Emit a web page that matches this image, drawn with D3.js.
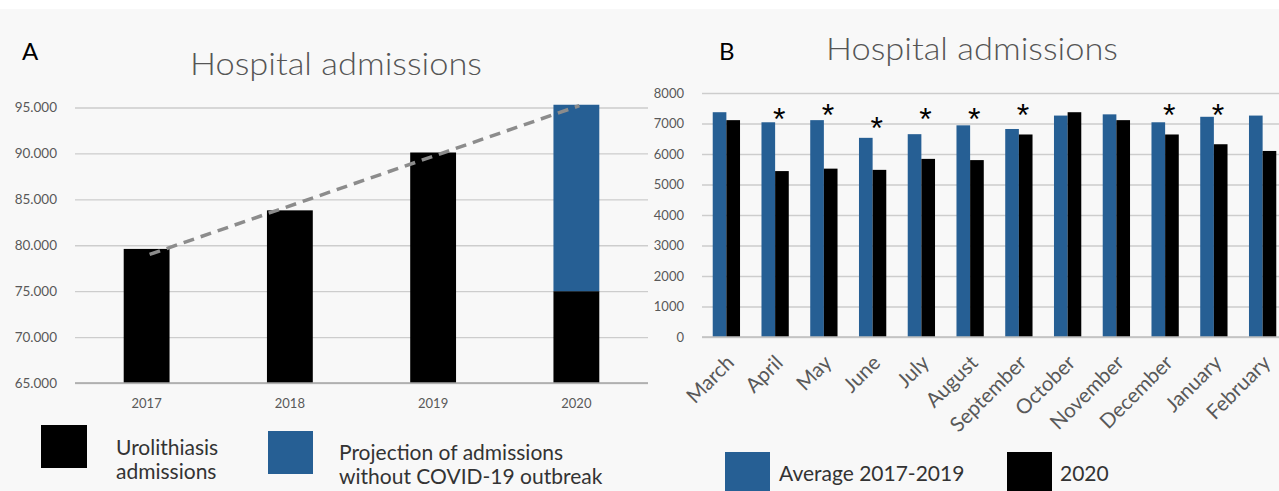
<!DOCTYPE html>
<html>
<head>
<meta charset="utf-8">
<script src="https://cdn.jsdelivr.net/npm/d3@7"></script>
<style>
  html, body { margin: 0; padding: 0; background: #ffffff; }
  svg { display: block; font-family: Lato, "Open Sans", "Liberation Sans", sans-serif; }
</style>
</head>
<body>
<svg id="chart" width="1279" height="491"></svg>
<script>
// ---------- Panel A data ----------
const yearsA = ["2017", "2018", "2019", "2020"];
const admissionsA = [79600, 83800, 90100, 75000];
const projectionA = [null, null, null, 95300];
const trendYearsA = ["2017", "2020"];
const trendValuesA = [79000, 95200];
const ticksA = [65000, 70000, 75000, 80000, 85000, 90000, 95000];

// ---------- Panel B data ----------
const monthsB = ["March", "April", "May", "June", "July", "August", "September",
                 "October", "November", "December", "January", "February"];
const averageB = [7370, 7040, 7110, 6530, 6650, 6940, 6820, 7260, 7300, 7040, 7220, 7260];
const y2020B = [7110, 5440, 5520, 5480, 5840, 5800, 6640, 7370, 7110, 6640, 6320, 6100];
const sigMonthsB = ["April", "May", "June", "July", "August", "September", "December", "January"];
const sigLevelB = [7380, 7510, 7080, 7380, 7380, 7510, 7510, 7510];
const ticksB = [0, 1000, 2000, 3000, 4000, 5000, 6000, 7000, 8000];

const BLUE = "#265f94", BLACK = "#000000", GRID = "#cdcdcd", TXT = "#595959";

const svg = d3.select("#chart");
svg.append("rect").attr("x", 0).attr("y", 9).attr("width", 1279).attr("height", 482).attr("fill", "#f8f8f8");

// ================= Panel A =================
const xA = d3.scaleBand().domain(yearsA).range([75, 648]).paddingInner(0.68).paddingOuter(0.34);
const yA = d3.scaleLinear().domain([65000, 95000]).range([383, 107.5]);
const fmtA = d3.formatLocale({decimal: ",", thousands: ".", grouping: [3], currency: ["", ""]}).format(",");

const gA = svg.append("g");
const axA = d3.axisLeft(yA).tickValues(ticksA).tickSize(-(648 - 75)).tickFormat(fmtA).tickPadding(18);
const gAx = gA.append("g").attr("transform", "translate(75,0)").call(axA);
gAx.select(".domain").remove();
gAx.selectAll(".tick line").attr("stroke", GRID).attr("stroke-width", 1.3);
gAx.selectAll(".tick text").attr("fill", TXT).attr("font-size", 13.5).attr("font-family", "Lato, sans-serif");

// bars
gA.selectAll("rect.adm").data(yearsA).join("rect").attr("class", "adm")
  .attr("x", d => xA(d)).attr("width", xA.bandwidth())
  .attr("y", (d, i) => yA(admissionsA[i])).attr("height", (d, i) => yA(65000) - yA(admissionsA[i]))
  .attr("fill", BLACK);
gA.selectAll("rect.proj").data(yearsA.filter((d, i) => projectionA[i] != null)).join("rect").attr("class", "proj")
  .attr("x", d => xA(d)).attr("width", xA.bandwidth())
  .attr("y", d => yA(projectionA[yearsA.indexOf(d)]))
  .attr("height", d => { const i = yearsA.indexOf(d); return yA(admissionsA[i]) - yA(projectionA[i]); })
  .attr("fill", BLUE);
// baseline
gA.append("line").attr("x1", 75).attr("x2", 648).attr("y1", yA(65000)).attr("y2", yA(65000))
  .attr("stroke", "#a6a6a6").attr("stroke-width", 1.5);

// trend line
const trendPts = trendYearsA.map((d, i) => [xA(d) + xA.bandwidth() / 2 + 3, yA(trendValuesA[i])]);
gA.append("path").attr("d", d3.line()(trendPts)).attr("fill", "none")
  .attr("stroke", "#8c8c8c").attr("stroke-width", 3.5).attr("stroke-dasharray", "11,7");

// x labels
gA.selectAll("text.year").data(yearsA).join("text").attr("class", "year")
  .attr("x", d => xA(d) + xA.bandwidth() / 2).attr("y", 408)
  .attr("text-anchor", "middle").attr("font-size", 13).attr("fill", TXT).text(d => d);

// title
svg.append("text").attr("x", 22).attr("y", 60).attr("font-size", 24).attr("fill", "#000").text("A");
svg.append("text").attr("x", 190).attr("y", 75).attr("font-size", 31).attr("font-weight", 300)
  .attr("fill", "#555").attr("textLength", 292).attr("lengthAdjust", "spacingAndGlyphs").text("Hospital admissions");

// legend A
svg.append("rect").attr("x", 41).attr("y", 425).attr("width", 46).attr("height", 43).attr("fill", BLACK);
svg.append("text").attr("x", 116).attr("y", 455).attr("font-size", 21).attr("fill", "#333").text("Urolithiasis");
svg.append("text").attr("x", 116).attr("y", 479).attr("font-size", 21).attr("fill", "#333").text("admissions");
svg.append("rect").attr("x", 268).attr("y", 431).attr("width", 45).attr("height", 43).attr("fill", BLUE);
svg.append("text").attr("x", 339).attr("y", 460).attr("font-size", 21).attr("fill", "#333").text("Projection of admissions");
svg.append("text").attr("x", 339).attr("y", 484).attr("font-size", 21).attr("fill", "#333").text("without COVID-19 outbreak");

// ================= Panel B =================
const xB = d3.scaleBand().domain(monthsB).range([702, 1287]).paddingInner(0.44).paddingOuter(0.22);
const xSub = d3.scaleBand().domain(["avg", "y2020"]).range([0, xB.bandwidth()]);
const yB = d3.scaleLinear().domain([0, 8000]).range([337, 93]);

const gB = svg.append("g");
const axB = d3.axisLeft(yB).tickValues(ticksB).tickSize(-(1279 - 702)).tickPadding(18).tickFormat(d3.format("d"));
const gBx = gB.append("g").attr("transform", "translate(702,0)").call(axB);
gBx.select(".domain").remove();
gBx.selectAll(".tick line").attr("stroke", GRID).attr("stroke-width", 1.3);
gBx.selectAll(".tick text").attr("fill", TXT).attr("font-size", 13).attr("font-family", "Lato, sans-serif");

gB.selectAll("rect.avg").data(monthsB).join("rect").attr("class", "avg")
  .attr("x", d => xB(d) + xSub("avg")).attr("width", xSub.bandwidth())
  .attr("y", (d, i) => yB(averageB[i])).attr("height", (d, i) => yB(0) - yB(averageB[i]))
  .attr("fill", BLUE);
gB.selectAll("rect.y20").data(monthsB).join("rect").attr("class", "y20")
  .attr("x", d => xB(d) + xSub("y2020")).attr("width", xSub.bandwidth())
  .attr("y", (d, i) => yB(y2020B[i])).attr("height", (d, i) => yB(0) - yB(y2020B[i]))
  .attr("fill", BLACK);
gB.append("line").attr("x1", 702).attr("x2", 1279).attr("y1", yB(0)).attr("y2", yB(0))
  .attr("stroke", "#bfbfbf").attr("stroke-width", 1.5);

// asterisks
gB.selectAll("text.sig").data(sigMonthsB).join("text").attr("class", "sig")
  .attr("x", d => xB(d) + xB.bandwidth() / 2 + 4)
  .attr("y", (d, i) => yB(sigLevelB[i]) + 18)
  .attr("text-anchor", "middle").attr("font-size", 32).attr("font-family", "Liberation Sans, sans-serif")
  .attr("fill", "#000").text("*");

// month labels
gB.selectAll("text.month").data(monthsB).join("text").attr("class", "month")
  .attr("transform", d => `translate(${xB(d) + xB.bandwidth() / 2 + 9},${yB(0) + 27}) rotate(-45)`)
  .attr("text-anchor", "end").attr("font-size", 20.5).attr("fill", TXT).text(d => d);

// title B
svg.append("text").attr("x", 719).attr("y", 60).attr("font-size", 24).attr("fill", "#000").text("B");
svg.append("text").attr("x", 826).attr("y", 60).attr("font-size", 31).attr("font-weight", 300)
  .attr("fill", "#555").attr("textLength", 292).attr("lengthAdjust", "spacingAndGlyphs").text("Hospital admissions");

// legend B
svg.append("rect").attr("x", 725).attr("y", 452).attr("width", 45).attr("height", 45).attr("fill", BLUE);
svg.append("text").attr("x", 779).attr("y", 481).attr("font-size", 21).attr("fill", "#333").text("Average 2017-2019");
svg.append("rect").attr("x", 1007).attr("y", 452).attr("width", 45).attr("height", 45).attr("fill", BLACK);
svg.append("text").attr("x", 1060).attr("y", 481).attr("font-size", 21).attr("fill", "#333").text("2020");
</script>
</body>
</html>
